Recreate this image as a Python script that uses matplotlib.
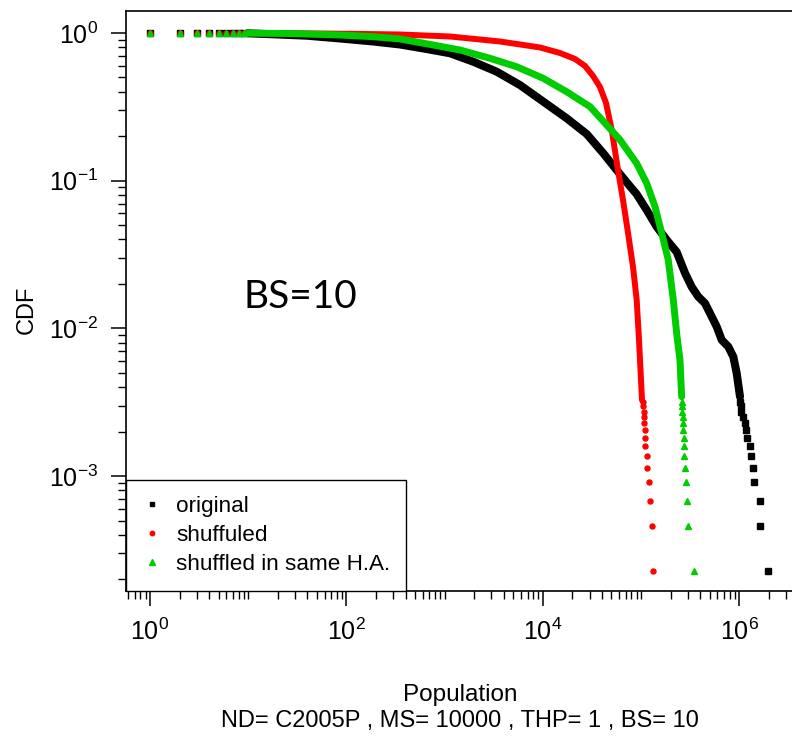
import numpy as np
import matplotlib
matplotlib.use("Agg")
import matplotlib.pyplot as plt
from matplotlib.ticker import FixedLocator, LogLocator, FuncFormatter, NullFormatter
from matplotlib.lines import Line2D

plt.rcParams['font.family'] = ['Liberation Sans', 'DejaVu Sans']
plt.rcParams['mathtext.fontset'] = 'custom'
plt.rcParams['mathtext.rm'] = 'Liberation Sans'
plt.rcParams['mathtext.it'] = 'Liberation Sans:italic'
plt.rcParams['mathtext.bf'] = 'Liberation Sans:bold'

# ---------------- data ----------------
labels = ["original", "shuffuled", "shuffled in same H.A."]
colors = ["#000000", "#ff0000", "#00cc00"]

# small integer populations, all series at CDF ~ 1
head_pop = [1, 2, 3, 4, 5, 6, 7, 8, 9]
head_cdf = [1.0, 1.0, 0.9998, 0.9996, 0.9993, 0.999, 0.9987, 0.9984, 0.998]

# dense part of each curve
orig_pop = [9.95, 18.0, 39.4, 86.1, 187.9, 351.4, 657.2, 1135, 1960, 3393, 5860,
            10120, 17510, 27990, 41310, 56560, 71520, 90410, 114300, 144500,
            182700, 230900, 280600, 328300, 383200, 448400, 504200, 590200,
            663600, 774500, 871000, 943000, 1019000]
orig_cdf = [0.995, 0.980, 0.959, 0.918, 0.876, 0.836, 0.779, 0.729, 0.639, 0.547,
            0.444, 0.343, 0.2646, 0.2071, 0.1533, 0.1181, 0.0975, 0.0810, 0.0633,
            0.0488, 0.0397, 0.0329, 0.0237, 0.0191, 0.0164, 0.01479, 0.01266,
            0.01027, 0.00835, 0.00752, 0.00643, 0.00497, 0.00345]

shuf_pop = [9.95, 33.7, 109, 351, 1135, 3665, 9360, 14970, 21290, 26900, 32460,
            38220, 44030, 50350, 58350, 65600, 73800, 82960, 90400, 95450,
            98860, 102400]
shuf_cdf = [0.997, 0.995, 0.988, 0.977, 0.947, 0.876, 0.798, 0.732, 0.667, 0.598,
            0.512, 0.431, 0.336, 0.2205, 0.118, 0.0740, 0.0442, 0.0260, 0.01557,
            0.00835, 0.00523, 0.00327]

ha_pop = [9.95, 26.7, 86.1, 187.9, 351.4, 767.6, 1436, 2900, 5420, 10120, 17500,
          30270, 44770, 61110, 90360, 114300, 138800, 162500, 189700, 213300,
          230800, 249400, 259400]
ha_cdf = [0.997, 0.992, 0.969, 0.944, 0.911, 0.829, 0.767, 0.674, 0.591, 0.493,
          0.400, 0.317, 0.238, 0.189, 0.131, 0.0960, 0.0667, 0.0441, 0.0290,
          0.01557, 0.00926, 0.00611, 0.00345]

# sparse tails (largest values)
tail_cdf = [0.000228, 0.000456, 0.000683, 0.000911, 0.00114, 0.00137, 0.00159,
            0.00182, 0.00205, 0.00228, 0.00251, 0.00273, 0.00296, 0.00319]
orig_tail_pop = [1978000, 1628000, 1628000, 1425000, 1366000, 1328000, 1288000,
                 1187000, 1168000, 1146000, 1094000, 1043000, 1031000, 1019000]
shuf_tail_pop = [131550, 128530, 124370, 120640, 114290, 114290, 110630, 110630,
                 110630, 107280, 107280, 106540, 105540, 104060]
ha_tail_pop = [346600, 301100, 296200, 287300, 280600, 272200, 272200, 272200,
               269700, 265900, 265900, 263400, 261600, 261600]

x_major = [1, 1e2, 1e4, 1e6]
x_label = "Population"
subtitle = "ND= C2005P , MS= 10000 , THP= 1 , BS= 10"
y_label = "CDF"
annot = "BS=10"

# ---------------- figure ----------------
fig = plt.figure(figsize=(7.92, 7.36), dpi=100)
ax = fig.add_axes([126/792, 145/736, 668/792, 580/736])

series = [
    (orig_pop, orig_cdf, orig_tail_pop, 's', 4.3, 5.8),
    (shuf_pop, shuf_cdf, shuf_tail_pop, 'o', 3.6, 4.3),
    (ha_pop, ha_cdf, ha_tail_pop, '^', 4.5, 5.0),
]
for i, (px, py, tx, mk, ms, lw) in enumerate(series):
    c = colors[i]
    ax.plot(px, py, color=c, lw=lw, solid_capstyle='round', solid_joinstyle='round', zorder=3 + i)
    ax.plot(tx, tail_cdf, ls='none', marker=mk, ms=ms, color=c, mec=c, zorder=3 + i)
    ax.plot(head_pop, head_cdf, ls='none', marker=mk, ms=ms, color=c, mec=c, zorder=3 + i)

ax.set_xscale('log')
ax.set_yscale('log')
ax.set_xlim(10 ** (-24 / 98.2), 10 ** ((794 - 150) / 98.2))
ax.set_ylim(10 ** (-(591 - 33) / 147.7), 10 ** (22 / 147.7))

fmt = FuncFormatter(lambda v, p: r'$10^{%d}$' % int(round(np.log10(v))))
ax.xaxis.set_major_locator(FixedLocator(x_major))
ax.xaxis.set_minor_locator(LogLocator(base=10, subs=np.arange(1, 10), numticks=100))
ax.xaxis.set_major_formatter(fmt)
ax.xaxis.set_minor_formatter(NullFormatter())
ax.yaxis.set_major_locator(LogLocator(base=10, numticks=20))
ax.yaxis.set_minor_locator(LogLocator(base=10, subs=np.arange(2, 10), numticks=20))
ax.yaxis.set_major_formatter(fmt)
ax.yaxis.set_minor_formatter(NullFormatter())

ax.tick_params(which='major', length=11, width=1.1, labelsize=18, direction='out')
ax.tick_params(which='minor', length=5.8, width=1.0, direction='out')
ax.tick_params(axis='x', which='major', pad=9)
ax.tick_params(axis='y', which='major', pad=9)
for s in ax.spines.values():
    s.set_linewidth(1.2)

handles = [Line2D([], [], ls='none', marker='s', color=colors[0], ms=3.5),
           Line2D([], [], ls='none', marker='o', color=colors[1], ms=3.2),
           Line2D([], [], ls='none', marker='^', color=colors[2], ms=3.8)]
leg = ax.legend(handles, labels, loc='lower left', bbox_to_anchor=(0, 0),
                borderaxespad=0, frameon=True, fancybox=False, edgecolor='black',
                fontsize=16.2, handlelength=0.9, handletextpad=0.6, labelspacing=0.35,
                borderpad=0.72, framealpha=1)
leg.get_frame().set_linewidth(1.0)
leg.set_zorder(10)

ax.text(0.2605, 0.507, annot, transform=ax.transAxes, fontsize=28,
        family=['Lato', 'DejaVu Sans'], ha='center', va='center')

fig.text(27 / 792, 1 - 310 / 736, y_label, rotation=90, ha='center', va='center', fontsize=17)
fig.text(460 / 792, 1 - 695 / 736, x_label, ha='center', va='center', fontsize=17.5)
fig.text(460 / 792, 1 - 721 / 736, subtitle, ha='center', va='center', fontsize=17)

fig.savefig('out.png', dpi=100)
